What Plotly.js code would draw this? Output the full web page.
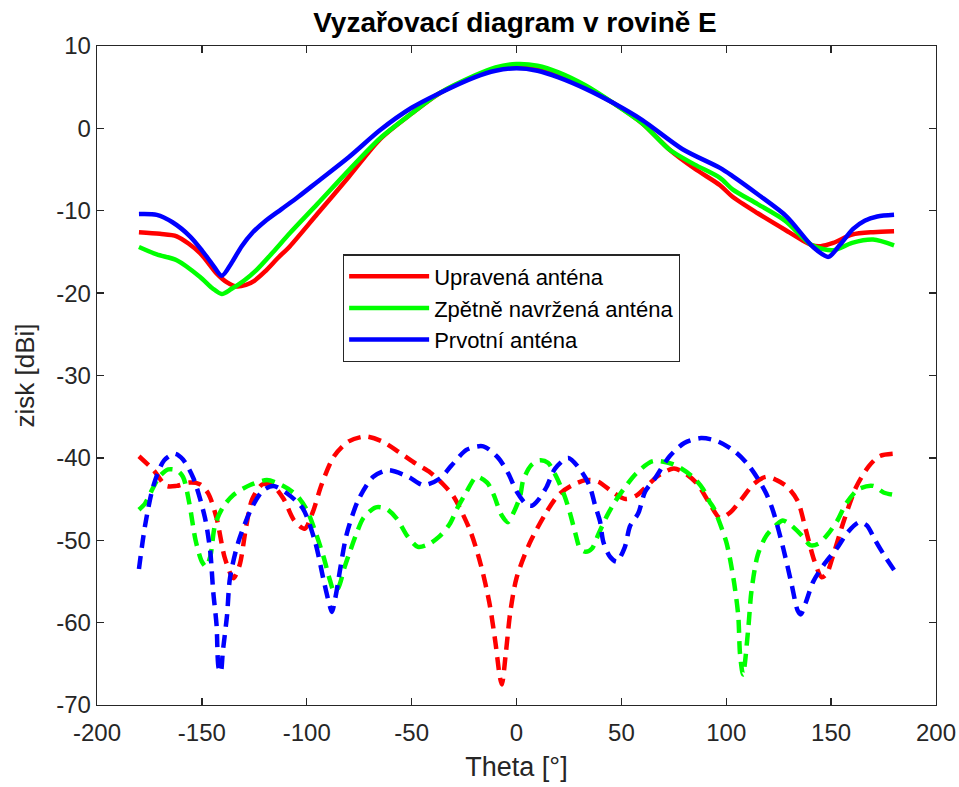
<!DOCTYPE html>
<html>
<head>
<meta charset="utf-8">
<script src="https://cdn.plot.ly/plotly-3.0.1.min.js"></script>
<style>html,body{margin:0;padding:0;background:#fff;}#chart{width:959px;height:787px;}</style>
</head>
<body>
<div id="chart"></div>
<script>
// ---- Solid curves (co-polarisation) ----
var thetaRedSolid = [-180,-170,-162,-151,-143,-138,-133.4,-129,-125,-120,-114,-108,-95,-80,-65,-50,-36.5,-20,-10,0,10,20,33,46,60,73,85,97,103,115,128,141,145,151,160,170,180];
var gainRedSolid  = [-12.6,-12.8,-13.1,-15.1,-17.6,-18.7,-19.2,-19.0,-18.5,-17.4,-15.8,-14.3,-10.4,-5.9,-1.3,1.8,4.3,6.3,7.2,7.6,7.4,6.6,5.0,3.1,0.6,-2.6,-4.9,-6.9,-8.3,-10.3,-12.3,-14.2,-14.3,-13.9,-12.9,-12.6,-12.5];

var thetaGreenSolid = [-180,-171.5,-162,-151,-145,-140.5,-136,-130,-124,-116,-108,-95,-80,-65,-50,-36.5,-20,-10,0,10,20,33,46,60,73,85,97,103,115,128,141,151,160,170,180];
var gainGreenSolid  = [-14.4,-15.3,-16.0,-18.0,-19.4,-20.1,-19.5,-18.5,-17.2,-15.0,-12.7,-9.2,-5.1,-1.2,1.8,4.3,6.4,7.4,7.8,7.6,6.8,5.2,3.1,0.6,-2.6,-4.4,-6.0,-7.4,-9.2,-11.2,-14.2,-14.8,-13.9,-13.5,-14.2];

var thetaBlueSolid = [-180,-171.5,-164,-155.7,-150,-145,-140.5,-136,-131,-126,-120,-112,-104,-95,-80,-65,-50,-36.5,-20,-10,0,10,20,33,46,60,79,97,103,115,128.8,141.4,148.7,154,160.5,166,172,180];
var gainBlueSolid  = [-10.4,-10.5,-11.4,-13.1,-14.8,-16.5,-17.9,-16.4,-14.3,-12.7,-11.3,-9.8,-8.3,-6.5,-3.5,-0.2,2.5,4.3,6.2,7.0,7.3,7.0,6.2,4.8,3.1,1.0,-2.5,-4.8,-5.8,-8.0,-10.7,-14.4,-15.6,-14.2,-12.2,-11.2,-10.7,-10.5];

// ---- Dashed curves (cross-polarisation) ----
var thetaRedDash = [-180,-173,-167,-162,-156,-151,-147,-143,-139,-135,-132,-129,-126,-121,-116,-111,-106,-101,-97,-93,-87,-80,-72,-64,-56,-48,-41,-35,-30,-22,-17,-13,-10,-8,-7,-5,-3,0,6,14,20,26,33,39,46,52,57,61,68,75,80,86,92,97,102,107,113,119,124,129,134,138,142,145.5,148,151,156,162,168,173,180];
var gainRedDash  = [-39.8,-41.5,-43.4,-43.4,-43.0,-43.2,-44.3,-47.3,-52.2,-54.6,-53.0,-48.5,-45.0,-43.2,-43.4,-45.0,-47.6,-48.6,-46.5,-43.3,-39.8,-38.0,-37.4,-38.0,-39.3,-40.7,-41.8,-43.2,-44.7,-48.9,-53.0,-57.5,-62.5,-66.5,-67.5,-63.5,-58.8,-54.6,-50.5,-46.7,-44.5,-43.4,-42.7,-42.9,-44.2,-45.0,-44.6,-43.7,-42.1,-41.3,-41.8,-43.1,-45.5,-47.3,-46.6,-45.1,-43.2,-42.3,-42.7,-43.5,-45.2,-48.8,-52.5,-54.5,-54.0,-51.8,-47.7,-43.5,-41.0,-39.8,-39.5];

var thetaGreenDash = [-180,-177,-174,-170,-166,-162,-159,-156,-153,-150,-148,-146,-143.7,-140,-135,-127,-119,-112,-105,-100,-96,-92,-89,-87,-85,-82,-80,-76,-73,-67,-62,-57,-52,-47,-42,-37,-32,-28,-24,-19,-14,-11,-7,-4,-1.5,1.7,3.2,7,11,15,19,23,25.5,28,30.3,33,36,39,43,47,52.5,57,65,75,84,89,92,94,100,103.4,105.7,106.6,108,110.5,112,115,119,124,127,131,137,140,144,148,153,157,163,170,175,180];
var gainGreenDash  = [-46.3,-45.5,-44.0,-42.2,-41.4,-41.5,-42.3,-45.5,-50.0,-52.6,-53.2,-52.0,-48.1,-46.0,-44.5,-43.3,-42.7,-43.3,-44.5,-46.3,-48.9,-52.0,-54.8,-56.2,-55.8,-53.3,-51.8,-49.0,-47.3,-46.0,-46.2,-47.4,-49.5,-50.8,-50.5,-49.6,-48.1,-46.0,-44.2,-42.3,-43.0,-44.4,-47.0,-47.8,-46.7,-44.7,-42.7,-40.9,-40.3,-40.6,-42.3,-44.7,-46.7,-49.1,-51.0,-51.4,-51.0,-49.3,-47.1,-45.3,-43.3,-41.9,-40.4,-40.8,-42.3,-43.8,-45.3,-46.1,-50.2,-54.6,-59.1,-63.9,-66.3,-60.7,-56.2,-51.8,-49.5,-48.1,-47.6,-48.2,-49.7,-50.6,-50.4,-49.4,-47.6,-45.6,-43.8,-43.4,-44.2,-44.5];

var thetaBlueDash = [-180,-177,-173,-168,-163,-159,-154,-148.5,-146,-144.6,-143,-142,-141,-140,-138,-136.6,-132.6,-126.3,-121,-116,-110,-102,-96,-92,-89,-88,-86,-84,-81,-75.4,-68.3,-61,-51.6,-44.4,-36.5,-30.9,-23.7,-15.8,-8.7,-3.9,0.1,4.9,7.5,10.4,14.4,18.4,24.7,31.1,35,37.4,39.8,41.4,44.6,47.8,51.7,54.1,58.1,61.3,66,73,80,88,96,104,110,115,119,122.4,127.2,131.2,134,135.5,138,141.5,147,152.7,158,163.5,167,171,175,180];
var gainBlueDash  = [-53.5,-48.1,-43.3,-40.3,-39.5,-40.2,-42.5,-47.3,-51.4,-56.2,-60.3,-65.5,-66.0,-63.5,-59.1,-54.6,-50.2,-46.1,-44.0,-43.4,-44.2,-46.1,-50.2,-54.8,-58.0,-58.7,-56.5,-53.4,-49.3,-45.1,-42.3,-41.5,-42.3,-43.3,-42.5,-40.9,-39.0,-38.6,-40.0,-41.9,-44.1,-45.7,-45.8,-45.1,-43.5,-41.3,-40.0,-41.7,-43.5,-45.7,-47.7,-50.2,-52.0,-52.6,-50.8,-48.3,-46.7,-44.1,-42.5,-39.8,-38.2,-37.6,-38.0,-39.2,-40.7,-42.5,-44.3,-46.5,-51.0,-55.4,-58.5,-59.0,-57.5,-55.0,-52.8,-51.0,-49.0,-47.8,-48.2,-50.0,-51.7,-53.6];

// ---- Text ----
var seriesNames = ['Upravená anténa', 'Zpětně navržená anténa', 'Prvotní anténa'];
var chartTitle = 'Vyzařovací diagram v rovině E';
var xTitle = 'Theta [°]';
var yTitle = 'zisk [dBi]';
var xTicks = [-200,-150,-100,-50,0,50,100,150,200];
var yTicks = [-70,-60,-50,-40,-30,-20,-10,0,10];

var RED = '#ff0000', GREEN = '#00ff00', BLUE = '#0000ff';
var FONT = 'Arial, "Liberation Sans", Helvetica, sans-serif';

function solid(x, y, name, color) {
  return {x: x, y: y, name: name, type: 'scatter', mode: 'lines',
    line: {color: color, width: 4.5, shape: 'spline', smoothing: 0.8}, hoverinfo: 'skip'};
}
function dashed(x, y, name, color) {
  return {x: x, y: y, name: name, type: 'scatter', mode: 'lines', showlegend: false,
    line: {color: color, width: 4.5, dash: '13px,8px', shape: 'spline', smoothing: 0.8}, hoverinfo: 'skip'};
}

var data = [
  solid(thetaRedSolid, gainRedSolid, seriesNames[0], RED),
  solid(thetaGreenSolid, gainGreenSolid, seriesNames[1], GREEN),
  solid(thetaBlueSolid, gainBlueSolid, seriesNames[2], BLUE),
  dashed(thetaRedDash, gainRedDash, seriesNames[0], RED),
  dashed(thetaGreenDash, gainGreenDash, seriesNames[1], GREEN),
  dashed(thetaBlueDash, gainBlueDash, seriesNames[2], BLUE)
];

var axisCommon = {
  showgrid: false, zeroline: false, showline: true, mirror: 'ticks',
  linecolor: '#262626', linewidth: 1.3, ticks: 'inside', ticklen: 7, tickwidth: 1.3, tickcolor: '#262626',
  tickfont: {family: FONT, size: 24, color: '#262626'}
};

var layout = {
  width: 959, height: 787,
  paper_bgcolor: '#ffffff', plot_bgcolor: '#ffffff',
  margin: {l: 97, r: 23, t: 46, b: 82},
  font: {family: FONT, color: '#262626'},
  title: {text: '<b>' + chartTitle + '</b>', font: {family: FONT, size: 28, color: '#000'},
    x: 0.537, xanchor: 'center', y: 0.972, yanchor: 'middle'},
  xaxis: Object.assign({}, axisCommon, {
    range: [-200, 200], tickvals: xTicks, ticktext: xTicks.map(String), ticklabelstandoff: 6,
    title: {text: xTitle, font: {family: FONT, size: 27, color: '#262626'}, standoff: 12}
  }),
  yaxis: Object.assign({}, axisCommon, {
    range: [-70, 10], tickvals: yTicks, ticktext: yTicks.map(String),
    title: {text: yTitle, font: {family: FONT, size: 26, color: '#262626'}, standoff: 14}
  }),
  showlegend: true,
  legend: {
    x: 0.293, y: 0.684, xanchor: 'left', yanchor: 'top',
    bgcolor: '#ffffff', bordercolor: '#262626', borderwidth: 1.3,
    font: {family: FONT, size: 22, color: '#000'},
    itemwidth: 80
  }
};

Plotly.newPlot('chart', data, layout, {displayModeBar: false, staticPlot: true});
</script>
</body>
</html>
